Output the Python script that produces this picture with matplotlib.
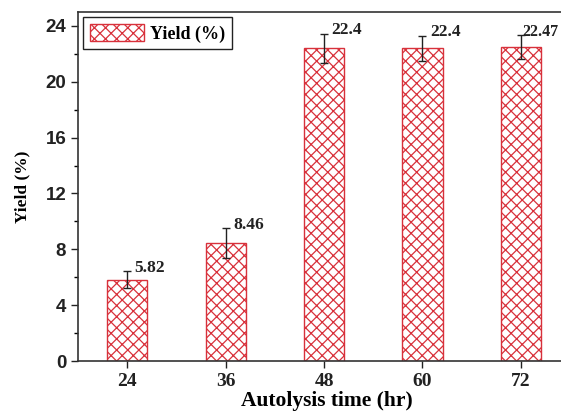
import numpy as np
import matplotlib.pyplot as plt

# autolysis time (hr) vs yield
times = [24, 36, 48, 60, 72]
yields = [5.82, 8.46, 22.4, 22.4, 22.47]
errs = [0.6, 1.05, 1.05, 0.9, 0.85]
labels = ['5.82', '8.46', '22.4', '22.4', '22.47']

red = '#d8313b'
plt.rcParams['hatch.color'] = red
plt.rcParams['hatch.linewidth'] = 0.9

fig = plt.figure(figsize=(5.61, 4.17), dpi=100)
ax = fig.add_axes([78/561, 1 - 361/417, (575 - 78)/561, (361 - 12)/417])

ax.bar(times, yields, width=4.9, facecolor='white', edgecolor=red,
       hatch='xxx', linewidth=1.0, label='Yield (%)', zorder=2)
ax.errorbar(times, yields, yerr=errs, fmt='none', ecolor='#222222',
            elinewidth=1.0, capsize=3, capthick=1.0, zorder=3)

for i, (t, y, e, s) in enumerate(zip(times, yields, errs, labels)):
    last = i == len(times) - 1
    dx = 0.15 if last else 0.9
    ax.text(t + dx, y + e + 0.25, s, ha='left', va='center',
            fontsize=11.5 if last else 12.5,
            fontweight='bold', family='Liberation Serif', color='#222222')

ax.set_xlim(18, 78.6)
ax.set_ylim(0, 25)
ax.set_xticks(times)
ax.set_yticks(np.arange(0, 25, 4))
ax.set_yticks(np.arange(2, 25, 4), minor=True)
ax.tick_params(axis='both', direction='out', length=5, width=1, colors='#222222')
ax.tick_params(axis='y', which='minor', direction='out', length=3, width=1)
ax.tick_params(axis='x', which='minor', bottom=False)

for lab in ax.get_yticklabels():
    lab.set_family('Liberation Sans')
    lab.set_fontweight('bold')
    lab.set_fontsize(13.5)
for lab in ax.get_xticklabels():
    lab.set_family('Liberation Serif')
    lab.set_fontweight('bold')
    lab.set_fontsize(14)

for sp in ax.spines.values():
    sp.set_color('#333333')
    sp.set_linewidth(1.2)

ax.set_xlabel('Autolysis time (hr)', family='Liberation Serif', fontweight='bold',
              fontsize=15.5, labelpad=1)
ax.set_ylabel('Yield (%)', family='Liberation Serif', fontweight='bold',
              fontsize=12.5, labelpad=11)

leg = ax.legend(loc='upper left', prop={'family': 'Liberation Serif', 'weight': 'bold', 'size': 13},
                fancybox=False, edgecolor='#222222', framealpha=1,
                handlelength=3.0, handleheight=1.1, borderpad=0.35,
                handletextpad=0.35, borderaxespad=0.3)
leg.get_frame().set_linewidth(1.0)

fig.savefig('out.png', dpi=100)
